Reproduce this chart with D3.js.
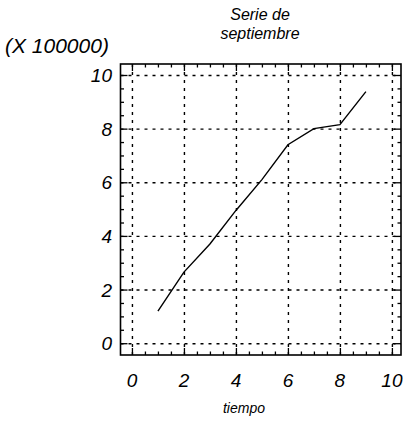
<!DOCTYPE html>
<html>
<head>
<meta charset="utf-8">
<script src="https://cdn.jsdelivr.net/npm/d3@7"></script>
<style>
  html, body { margin: 0; padding: 0; background: #fff; }
  svg { display: block; }
  text { font-family: "Liberation Sans", Arial, sans-serif; font-style: italic; fill: #000; }
</style>
</head>
<body>
<svg id="chart" width="403" height="422"></svg>
<script>
// Monthly series (values in units of 100000)
const tiempo = [1, 2, 3, 4, 5, 6, 7, 8, 9];
const serie = [1.2, 2.65, 3.7, 4.95, 6.1, 7.4, 8.0, 8.15, 9.38];
const xTicks = [0, 2, 4, 6, 8, 10];
const yTicks = [0, 2, 4, 6, 8, 10];
const titleLines = ["Serie de", "septiembre"];
const xTitle = "tiempo";
const yUnits = "(X 100000)";

const svg = d3.select("#chart");
const box = { left: 120.5, right: 401, top: 64, bottom: 355 };

const x = d3.scaleLinear().domain([-0.44, 10.35]).range([box.left, box.right]);
const y = d3.scaleLinear().domain([-0.44, 10.41]).range([box.bottom, box.top]);

const minor = d3.range(0, 10.01, 0.5).filter(v => v % 2 !== 0);
const W = box.right - box.left, H = box.bottom - box.top;

// dotted grid at each major tick
const grid = svg.append("g").attr("class", "grid");
grid.append("g").attr("transform", `translate(0,${box.bottom})`)
  .call(d3.axisBottom(x).tickValues(xTicks).tickSize(-H).tickFormat(""));
grid.append("g").attr("transform", `translate(${box.left},0)`)
  .call(d3.axisLeft(y).tickValues(yTicks).tickSize(-W).tickFormat(""));
grid.selectAll(".domain").remove();
grid.selectAll("line")
  .attr("stroke", "#000").attr("stroke-width", 1.4).attr("stroke-dasharray", "3,5");

// inward ticks on all four sides
function sideTicks(axisFn, vals, len, pos, isX) {
  const g = svg.append("g")
    .attr("transform", isX ? `translate(0,${pos})` : `translate(${pos},0)`)
    .call(axisFn(isX ? x : y).tickValues(vals).tickSize(len).tickSizeOuter(0).tickFormat(""));
  g.select(".domain").remove();
  g.selectAll("line").attr("stroke", "#000").attr("stroke-width", 1.3);
}
sideTicks(d3.axisTop, xTicks, 7, box.bottom, true);
sideTicks(d3.axisTop, minor, 3.5, box.bottom, true);
sideTicks(d3.axisBottom, xTicks, 7, box.top, true);
sideTicks(d3.axisBottom, minor, 3.5, box.top, true);
sideTicks(d3.axisRight, yTicks, 7, box.left, false);
sideTicks(d3.axisRight, minor, 3.5, box.left, false);
sideTicks(d3.axisLeft, yTicks, 7, box.right, false);
sideTicks(d3.axisLeft, minor, 3.5, box.right, false);

// frame
svg.append("rect")
  .attr("x", box.left).attr("y", box.top).attr("width", W).attr("height", H)
  .attr("fill", "none").attr("stroke", "#000").attr("stroke-width", 1.6);

// tick labels
svg.append("g").selectAll("text").data(xTicks).join("text")
  .attr("x", d => x(d)).attr("y", 387)
  .attr("text-anchor", "middle").attr("font-size", 19)
  .text(d => d);
svg.append("g").selectAll("text").data(yTicks).join("text")
  .attr("x", 112).attr("y", d => y(d) + 7)
  .attr("text-anchor", "end").attr("font-size", 19)
  .text(d => d);

// series line
svg.append("path")
  .datum(tiempo.map((t, i) => [t, serie[i]]))
  .attr("fill", "none").attr("stroke", "#000").attr("stroke-width", 1.4)
  .attr("d", d3.line().x(d => x(d[0])).y(d => y(d[1])));

// titles
svg.append("text").attr("x", 260).attr("y", 20).attr("text-anchor", "middle")
  .attr("font-size", 16).text(titleLines[0]);
svg.append("text").attr("x", 260).attr("y", 39).attr("text-anchor", "middle")
  .attr("font-size", 16).text(titleLines[1]);
svg.append("text").attr("x", 244).attr("y", 413).attr("text-anchor", "middle")
  .attr("font-size", 14).text(xTitle);
svg.append("text").attr("x", 5).attr("y", 53)
  .attr("font-size", 21).text(yUnits);
</script>
</body>
</html>
